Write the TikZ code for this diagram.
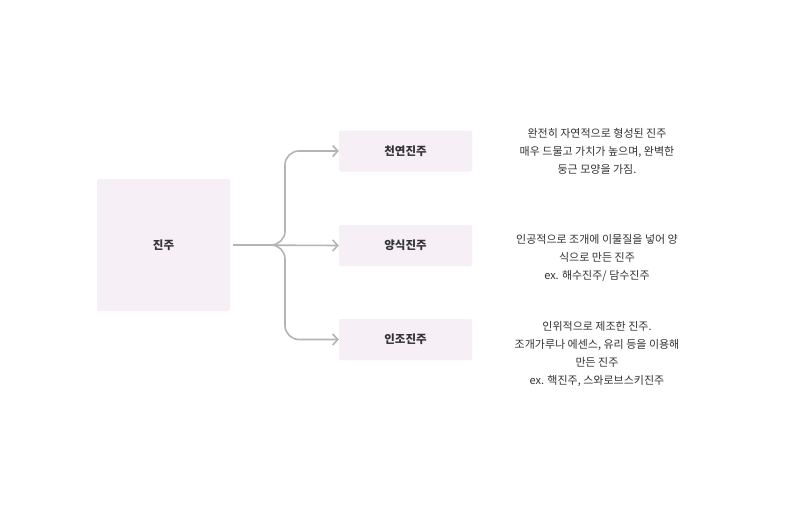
\documentclass[tikz,border=0pt]{standalone}
\usepackage{fontspec}
\setmainfont{Noto Sans CJK KR}
\usetikzlibrary{arrows.meta}
\definecolor{boxfill}{HTML}{F6EFF6}
\definecolor{linec}{HTML}{B4B4B4}
\definecolor{txt}{HTML}{333333}
\begin{document}
\begin{tikzpicture}[x=1pt,y=-1pt,
  box/.style={fill=boxfill,draw=none,rounded corners=2pt,font=\fontsize{11.5}{14}\selectfont\bfseries,text=txt},
  desc/.style={align=center,font=\fontsize{11}{18}\selectfont,text=txt},
  conn/.style={draw=linec,line width=1.6pt,-{Straight Barb[length=5pt,width=11pt]},rounded corners=14pt}]
\useasboundingbox[fill=white] (0,0) rectangle (800,506);
\node[box,minimum width=133pt,minimum height=132pt] (root) at (163.5,245) {진주};
\node[box,minimum width=133pt,minimum height=41pt] (a) at (405.5,151) {천연진주};
\node[box,minimum width=133pt,minimum height=41pt] (b) at (405.5,245.5) {양식진주};
\node[box,minimum width=133pt,minimum height=41pt] (c) at (405.5,339.5) {인조진주};
\coordinate (j) at (285,245);
\draw[conn] ([xshift=3pt]root.east) -- (j) -- (285,151) -- (a.west);
\draw[conn] ([xshift=3pt]root.east) -- (b.west);
\draw[conn] ([xshift=3pt]root.east) -- (j) -- (285,339.5) -- (c.west);
\node[desc] (da) at (597,151) {완전히 자연적으로 형성된 진주\\매우 드물고 가치가 높으며, 완벽한\\둥근 모양을 가짐.};
\node[desc] (db) at (597,258) {인공적으로 조개에 이물질을 넣어 양\\식으로 만든 진주\\ex. 해수진주/ 담수진주};
\node[desc] (dc) at (597,354) {인위적으로 제조한 진주.\\조개가루나 에센스, 유리 등을 이용해\\만든 진주\\ex. 핵진주, 스와로브스키진주};
\end{tikzpicture}
\end{document}
